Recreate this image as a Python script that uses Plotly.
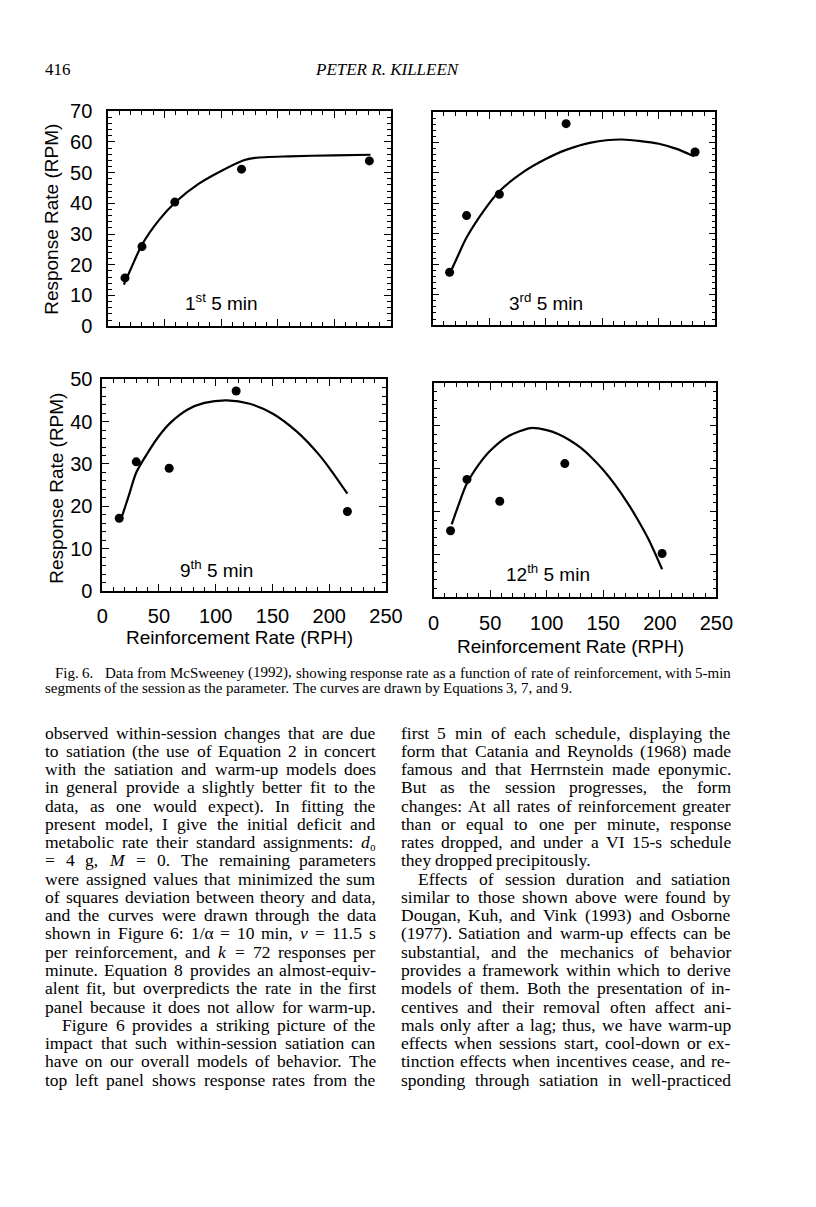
import re
import plotly.graph_objects as go

W, H = 816, 1207

# ---- data (x = reinforcement rate RPH, y = response rate RPM)
rph_1 = [15, 30, 59, 118, 231]
rpm_1 = [15.7, 25.9, 40.4, 51.1, 53.8]
fit_x_1 = [14, 20, 30, 45, 60, 80, 100, 120, 130, 160, 200, 232]
fit_y_1 = [13.5, 18.5, 26.5, 34.5, 40.5, 46.3, 50.5, 54.0, 54.8, 55.3, 55.6, 55.8]

rph_3 = [15, 30, 59, 118, 232]
rpm_3 = [17.4, 36.0, 43.0, 66.2, 56.9]
fit_x_3 = [15, 22, 30, 45, 59, 80, 100, 118, 140, 167, 200, 215, 231]
fit_y_3 = [16.8, 22.5, 28.8, 37.5, 44.0, 50.3, 54.6, 57.6, 60.0, 61.0, 59.6, 58.0, 55.5]

rph_9 = [15, 30, 59, 118, 216]
rpm_9 = [17.2, 30.5, 29.0, 47.2, 18.8]
fit_x_9 = [16, 23.5, 30, 40, 50, 60, 75, 90, 110, 130, 150, 172, 190, 200, 216]
fit_y_9 = [16.5, 22.6, 28.0, 32.6, 36.6, 39.7, 42.8, 44.4, 45.0, 44.2, 41.9, 37.5, 32.5, 29.1, 23.0]

rph_12 = [15, 29.5, 58.5, 116, 202]
rpm_12 = [15.5, 27.5, 22.4, 31.2, 10.2]
fit_x_12 = [16, 22, 29, 40, 50, 66, 86, 100, 110, 120, 130, 140, 150, 160, 172, 180, 190, 202]
fit_y_12 = [17.0, 21.5, 26.3, 31.0, 34.2, 37.6, 39.5, 39.0, 38.1, 36.7, 34.9, 32.5, 29.7, 26.4,
            21.8, 18.3, 13.5, 6.5]

x_ticks = [0, 50, 100, 150, 200, 250]
panel_labels = ["1<sup>st</sup> 5 min", "3<sup>rd</sup> 5 min", "9<sup>th</sup> 5 min", "12<sup>th</sup> 5 min"]

HEADER_NUM = "416"
HEADER_NAME = "PETER R. KILLEEN"
CAPTION = [
    "Fig. 6.\u00a0 Data from McSweeney (1992), showing response rate as a function of rate of reinforcement, with 5-min",
    "segments of the session as the parameter. The curves are drawn by Equations 3, 7, and 9.",
]
LEFT_COL = [
    "observed within-session changes that are due",
    "to satiation (the use of Equation 2 in concert",
    "with the satiation and warm-up models does",
    "in general provide a slightly better fit to the",
    "data, as one would expect). In fitting the",
    "present model, I give the initial deficit and",
    "metabolic rate their standard assignments: <i>d</i>₀",
    "= 4 g, <i>M</i> = 0. The remaining parameters",
    "were assigned values that minimized the sum",
    "of squares deviation between theory and data,",
    "and the curves were drawn through the data",
    "shown in Figure 6: 1/α = 10 min, <i>v</i> = 11.5 s",
    "per reinforcement, and <i>k</i> = 72 responses per",
    "minute. Equation 8 provides an almost-equiv-",
    "alent fit, but overpredicts the rate in the first",
    "panel because it does not allow for warm-up.",
    "Figure 6 provides a striking picture of the",
    "impact that such within-session satiation can",
    "have on our overall models of behavior. The",
    "top left panel shows response rates from the",
]
RIGHT_COL = [
    "first 5 min of each schedule, displaying the",
    "form that Catania and Reynolds (1968) made",
    "famous and that Herrnstein made eponymic.",
    "But as the session progresses, the form",
    "changes: At all rates of reinforcement greater",
    "than or equal to one per minute, response",
    "rates dropped, and under a VI 15-s schedule",
    "they dropped precipitously.",
    "Effects of session duration and satiation",
    "similar to those shown above were found by",
    "Dougan, Kuh, and Vink (1993) and Osborne",
    "(1977). Satiation and warm-up effects can be",
    "substantial, and the mechanics of behavior",
    "provides a framework within which to derive",
    "models of them. Both the presentation of in-",
    "centives and their removal often affect ani-",
    "mals only after a lag; thus, we have warm-up",
    "effects when sessions start, cool-down or ex-",
    "tinction effects when incentives cease, and re-",
    "sponding through satiation in well-practiced",
]
LEFT_INDENT = {16}
RIGHT_INDENT = {8}
RIGHT_RAGGED = {7}

SANS = "Liberation Sans, Arial, sans-serif"
SERIF = "Liberation Serif, Times New Roman, serif"
INK = "#000000"

# Times / Liberation Serif advance widths (1/1000 em), used to justify the text columns
GLYPH_W = dict(zip("abcdefghijklmnopqrstuvwxyz",
                   [444, 500, 444, 500, 444, 333, 500, 500, 278, 278, 500, 278, 778,
                    500, 500, 500, 500, 333, 389, 278, 500, 500, 722, 500, 500, 444]))
GLYPH_W.update(zip("ABCDEFGHIJKLMNOPQRSTUVWXYZ",
                   [722, 667, 667, 722, 611, 556, 722, 722, 333, 389, 722, 611, 889,
                    722, 722, 556, 722, 667, 556, 611, 722, 722, 944, 722, 722, 611]))
GLYPH_W.update({c: 500 for c in "0123456789"})
GLYPH_W.update({" ": 250, ",": 250, ".": 250, ":": 278, ";": 278, "(": 333, ")": 333,
                "-": 333, "=": 564, "/": 278, "α": 500, "₀": 350})


def px(x):
    return x / W


def py(y):
    return 1 - y / H


def text_em(s):
    s = re.sub(r"<[^>]+>", "", s)
    return sum(GLYPH_W.get(c, 500) for c in s) / 1000


annotations = []


def note(x, y, text, size, family=SERIF, xanchor="left", angle=0):
    annotations.append(dict(
        x=px(x), y=py(y), xref="paper", yref="paper", text=text, showarrow=False,
        xanchor=xanchor, yanchor="middle", textangle=angle, borderpad=0, borderwidth=0,
        font=dict(family=family, size=size, color=INK)))


def set_line(line, x0, x1, y, size, justify=True, indent=0):
    words = [w for w in line.split(" ") if w]
    widths = [text_em(w) * size * 1.02 for w in words]
    left = x0 + indent
    if justify and len(words) > 1:
        gap = (x1 - left - sum(widths)) / (len(words) - 1)
    else:
        gap = 0.25 * size
    x = left
    for i, (w, wd) in enumerate(zip(words, widths)):
        if justify and i == len(words) - 1 and i > 0:
            note(x1, y, w, size, xanchor="right")
        else:
            note(x, y, w, size)
        x += wd + gap


fig = go.Figure()

# (x domain px, y domain px, y max, x labels, y labels, x/y label standoff, label pos in data units)
panels = [
    ((105, 396), (102, 321), 70, False, True, (6, 10), (100, 7.8)),
    ((439, 730), (103, 320), 70, False, False, (6, 10), (100, 7.5)),
    ((99, 391), (375, 591), 50, True, True, (6, 4), (101, 5.3)),
    ((440, 731), (379, 597), 50, True, False, (7, 4), (101, 5.6)),
]
series = [
    (rph_1, rpm_1, fit_x_1, fit_y_1),
    (rph_3, rpm_3, fit_x_3, fit_y_3),
    (rph_9, rpm_9, fit_x_9, fit_y_9),
    (rph_12, rpm_12, fit_x_12, fit_y_12),
]

for i, ((xd, yd, ymax, xl, yl, so, lab), (dx, dy, fx, fy)) in enumerate(zip(panels, series), start=1):
    xa, ya = f"x{i}", f"y{i}"
    fig.add_trace(go.Scatter(x=fx, y=fy, mode="lines", xaxis=xa, yaxis=ya,
                             line=dict(color="black", width=2.2, shape="spline", smoothing=0.8),
                             hoverinfo="skip"))
    fig.add_trace(go.Scatter(x=dx, y=dy, mode="markers", xaxis=xa, yaxis=ya,
                             marker=dict(color="black", size=9)))
    common = dict(showline=True, linecolor="black", linewidth=1.5, mirror="allticks",
                  ticks="inside", ticklen=7, tickwidth=1.3, tickcolor="black",
                  showgrid=False, zeroline=False, fixedrange=True,
                  tickfont=dict(family=SANS, size=20, color=INK))
    fig.update_layout({
        f"xaxis{i}": dict(common, domain=[px(xd[0]), px(xd[1])], anchor=ya, range=[0, 250],
                          tickvals=x_ticks, showticklabels=xl, ticklabelstandoff=so[0],
                          minor=dict(dtick=10, tick0=0, ticks="inside", ticklen=4,
                                     tickwidth=1.1, tickcolor="black")),
        f"yaxis{i}": dict(common, domain=[py(yd[1]), py(yd[0])], anchor=xa, range=[0, ymax],
                          dtick=10, tick0=0, showticklabels=yl, ticklabelstandoff=so[1],
                          minor=dict(dtick=2, tick0=0, ticks="inside", ticklen=4,
                                     tickwidth=1.1, tickcolor="black")),
    })
    annotations.append(dict(x=lab[0], y=lab[1], xref=xa, yref=ya, text=panel_labels[i - 1],
                            showarrow=False, xanchor="center", yanchor="middle",
                            font=dict(family=SANS, size=19, color=INK)))

# axis titles
note(46, 212, "Response Rate (RPM)", 19, SANS, "center", -90)
note(52, 486, "Response Rate (RPM)", 19, SANS, "center", -90)
note(240, 638, "Reinforcement Rate (RPH)", 19, SANS, "center")
note(581, 647, "Reinforcement Rate (RPH)", 19, SANS, "center")

# running head
note(40, 60, HEADER_NUM, 17)
note(393, 60, f"<i>{HEADER_NAME}</i>", 17, xanchor="center")

# caption
set_line(CAPTION[0], 50, 746, 674, 15)
set_line(CAPTION[1], 40, 746, 690, 15, justify=False)

# body text, two justified columns
BODY_SIZE, LEAD, TOP = 17.5, 18.6, 735
for k, line in enumerate(LEFT_COL):
    set_line(line, 40, 381, TOP + k * LEAD, BODY_SIZE,
             indent=18 if k in LEFT_INDENT else 0)
for k, line in enumerate(RIGHT_COL):
    set_line(line, 406, 746, TOP + k * LEAD, BODY_SIZE, justify=k not in RIGHT_RAGGED,
             indent=18 if k in RIGHT_INDENT else 0)

fig.update_layout(width=W, height=H, margin=dict(l=0, r=0, t=0, b=0),
                  paper_bgcolor="white", plot_bgcolor="white", showlegend=False,
                  annotations=annotations)

# page body margin off, so the figure sits at the window's top-left corner
fig.write_html("out.html", config={"displayModeBar": False},
               post_script="document.body.style.margin = '0';")
